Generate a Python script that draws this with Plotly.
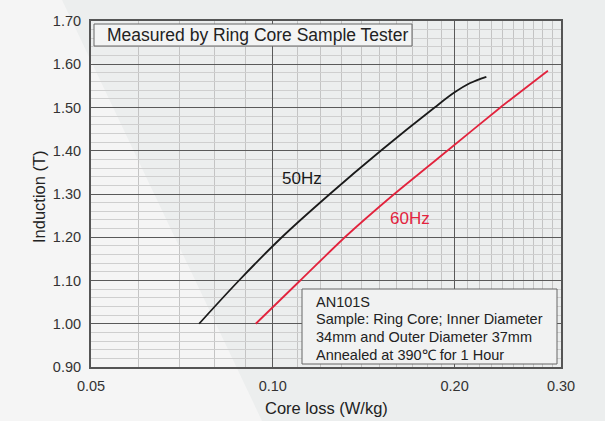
import plotly.graph_objects as go

# ---- data ----
loss_50 = [0.0755, 0.0879, 0.1035, 0.1243, 0.1509, 0.1853, 0.200, 0.2118, 0.2257]
ind_50 = [1.00, 1.10, 1.20, 1.30, 1.40, 1.50, 1.535, 1.556, 1.571]

loss_60 = [0.0937, 0.1110, 0.1316, 0.1589, 0.1945, 0.2381, 0.2854]
ind_60 = [1.00, 1.10, 1.20, 1.30, 1.40, 1.50, 1.585]

x_ticks = [0.05, 0.10, 0.20, 0.30]
x_tick_text = ["0.05", "0.10", "0.20", "0.30"]
x_minor = [0.06, 0.07, 0.08, 0.09] + [round(0.11 + 0.01 * i, 2) for i in range(9)] + \
          [round(0.21 + 0.01 * i, 2) for i in range(9)]
y_ticks = [0.90, 1.00, 1.10, 1.20, 1.30, 1.40, 1.50, 1.60, 1.70]
y_tick_text = ["%.2f" % v for v in y_ticks]

title_box_text = "Measured by Ring Core Sample Tester"
info_lines = ["AN101S", "Sample: Ring Core; Inner Diameter",
              "34mm and Outer Diameter 37mm", "Annealed at 390\u2103 for 1 Hour"]

# ---- geometry helpers (pixel -> paper) ----
W, H = 605, 421
L, R, T, B = 91, 561, 21, 367
def px(x):
    return (x - L) / (R - L)
def py(y):
    return (B - y) / (B - T)

FONT = "Arial"
BG = "#eceeee"
LIGHT = "#f5f5f5"
TXT = "#222222"

fig = go.Figure()
fig.add_trace(go.Scatter(x=loss_50, y=ind_50, mode="lines",
                         line=dict(color="#1a1a1a", width=1.8, shape="spline", smoothing=1.0),
                         showlegend=False, hoverinfo="skip"))
fig.add_trace(go.Scatter(x=loss_60, y=ind_60, mode="lines",
                         line=dict(color="#e2233d", width=1.8, shape="spline", smoothing=0.5),
                         showlegend=False, hoverinfo="skip"))

shapes = [
    # lighter diagonal region of background
    dict(type="path", xref="paper", yref="paper", layer="below",
         path="M %f %f L %f %f L %f %f L %f %f Z" % (px(0), py(0), px(62), py(0), px(262), py(H), px(0), py(H)),
         fillcolor=LIGHT, line=dict(width=0)),
    # title box
    dict(type="rect", xref="paper", yref="paper", layer="above",
         x0=px(94), x1=px(412), y0=py(24), y1=py(46),
         fillcolor="#f3f4f4", line=dict(color="#666666", width=1)),
    # info box
    dict(type="rect", xref="paper", yref="paper", layer="above",
         x0=px(302), x1=px(557), y0=py(289), y1=py(364),
         fillcolor="#f1f2f2", line=dict(color="#666666", width=1)),
]

annotations = [
    dict(text=title_box_text, xref="paper", yref="paper", x=px(105), y=py(35), xanchor="left", yanchor="middle",
         showarrow=False, font=dict(family=FONT, size=17.5, color=TXT)),
    dict(text="50Hz", xref="paper", yref="paper", x=px(302), y=py(178), xanchor="center", yanchor="middle",
         showarrow=False, font=dict(family=FONT, size=17, color="#1a1a1a")),
    dict(text="60Hz", xref="paper", yref="paper", x=px(410), y=py(218), xanchor="center", yanchor="middle",
         showarrow=False, font=dict(family=FONT, size=17, color="#e2233d")),
    dict(text="Induction (T)", xref="paper", yref="paper", x=px(39), y=py(197), xanchor="center", yanchor="middle",
         textangle=-90, showarrow=False, font=dict(family=FONT, size=16.5, color=TXT)),
    dict(text="Core loss (W/kg)", xref="paper", yref="paper", x=px(326), y=py(408), xanchor="center",
         yanchor="middle", showarrow=False, font=dict(family=FONT, size=16.5, color=TXT)),
]
info_y = [301.7, 319.4, 337.1, 354.8]
for line, yy in zip(info_lines, info_y):
    annotations.append(dict(text=line, xref="paper", yref="paper", x=px(314), y=py(yy), xanchor="left",
                            yanchor="middle", align="left", showarrow=False,
                            font=dict(family=FONT, size=14.5, color=TXT)))

fig.update_layout(
    width=W, height=H,
    margin=dict(l=L, r=W - R, t=T, b=H - B, pad=0),
    paper_bgcolor=BG, plot_bgcolor="rgba(0,0,0,0)",
    shapes=shapes, annotations=annotations,
    font=dict(family=FONT, color="#333333"),
)
fig.update_xaxes(type="log", range=[-1.30103, -0.522879], tickvals=x_ticks, ticktext=x_tick_text,
                 showgrid=True, gridcolor="#5a5a5a", gridwidth=1.2,
                 minor=dict(tickvals=x_minor, showgrid=True, gridcolor="#c4c4c4", gridwidth=1, ticks=""),
                 showline=True, linecolor="#555555", linewidth=2, mirror=True, ticks="",
                 ticklabelstandoff=5, tickfont=dict(family=FONT, size=14.5, color="#333333"), zeroline=False)
fig.update_yaxes(range=[0.90, 1.70], tickvals=y_ticks, ticktext=y_tick_text,
                 showgrid=True, gridcolor="#5a5a5a", gridwidth=1.2,
                 minor=dict(dtick=0.02, showgrid=True, gridcolor="#cfcfcf", gridwidth=1, ticks=""),
                 showline=True, linecolor="#555555", linewidth=2, mirror=True, ticks="",
                 ticklabelstandoff=5, tickfont=dict(family=FONT, size=14.5, color="#333333"), zeroline=False)

fig.write_html("out.html")
